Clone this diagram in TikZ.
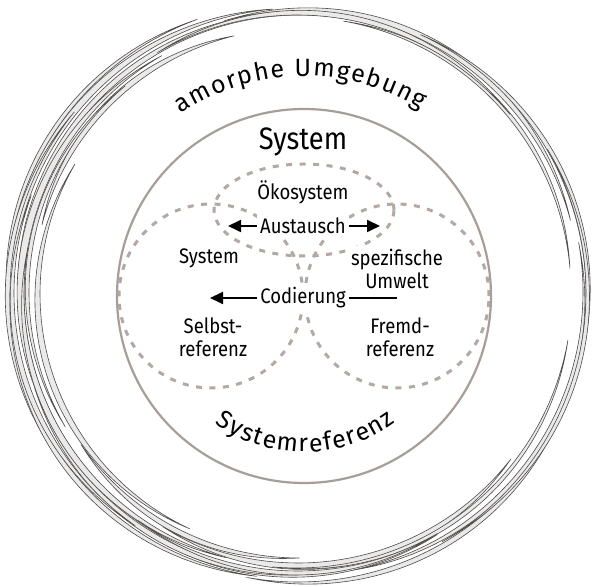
\documentclass[tikz,border=0pt]{standalone}
\usepackage{fontspec}
\setmainfont[FakeStretch=0.88]{Fira Sans}
\newfontfamily\curvefont{Fira Sans}
\usetikzlibrary{arrows.meta,decorations.text}
\definecolor{ringc}{RGB}{168,158,153}
\definecolor{dashc}{RGB}{178,169,164}
\definecolor{brushline}{RGB}{80,76,74}
\definecolor{brushfill}{RGB}{234,234,234}
\newcommand\brushstroke[6]{%
  \filldraw[brushst]
    plot[domain=#4:#5, samples=70, variable=\t]
      ({#1+(#3+#6*sin((\t-(#4))/((#5)-(#4))*180))*cos(\t)},
       {#2+(#3+#6*sin((\t-(#4))/((#5)-(#4))*180))*sin(\t)})
    -- plot[domain=#5:#4, samples=70, variable=\t]
      ({#1+#3*cos(\t)},{#2+#3*sin(\t)}) -- cycle;}
\begin{document}
\begin{tikzpicture}[x=1pt,y=1pt,
  lbl/.style={font=\fontsize{21}{23}\selectfont, align=center, inner sep=3pt, fill=white},
  head/.style={font=\fontsize{31}{31}\selectfont, inner sep=2pt},
  arr/.style={line width=1.8pt, -{Triangle[length=13pt,width=12pt]}},
  plainline/.style={line width=1.8pt},
  ring/.style={draw=ringc, line width=2.2pt},
  dashring/.style={draw=dashc, line width=3pt, dash pattern=on 6pt off 7.5pt},
  brushst/.style={fill=brushfill, draw=brushline, line width=0.6pt}]
\useasboundingbox (0,0) rectangle (594,586);
\fill[white] (0,0) rectangle (594,586);

% outer sketchy ring
\brushstroke{298}{293}{285}{95}{215}{7}
\brushstroke{300}{291}{280}{70}{200}{5}
\brushstroke{296}{295}{289}{110}{185}{4}
\brushstroke{298}{293}{265}{104}{165}{6}
\brushstroke{297}{293}{287}{141}{240}{5}
\brushstroke{299}{292}{275}{120}{230}{7}
\brushstroke{299}{292}{259}{150}{245}{6}
\brushstroke{298}{294}{269}{130}{210}{4}
\brushstroke{298}{293}{282}{15}{105}{6}
\brushstroke{300}{292}{286}{-30}{65}{5}
\brushstroke{296}{294}{275}{5}{80}{4}
\brushstroke{297}{293}{278}{40}{120}{5}
\brushstroke{298}{293}{289}{-100}{-21}{5}
\brushstroke{298}{293}{270}{-120}{-38}{7}
\brushstroke{300}{294}{283}{-80}{10}{5}
\brushstroke{298}{292}{278}{-150}{-60}{6}
\brushstroke{299}{293}{287}{-60}{30}{4}
\brushstroke{297}{293}{275}{-95}{-10}{4}
\brushstroke{298}{293}{280}{200}{280}{5}
\brushstroke{296}{293}{286}{180}{262}{5}
\brushstroke{299}{294}{266}{215}{270}{5}
\brushstroke{298}{293}{284}{160}{235}{5}
\brushstroke{297}{292}{273}{170}{255}{6}
\brushstroke{298}{293}{278}{235}{300}{4}

% system circle
\draw[ring] (304,290) circle[radius=187];

% dashed circles
\draw[dashring] (211,290) circle[radius=92];
\draw[dashring] (397,290) circle[radius=92];
\draw[dashring] (304,376) ellipse[x radius=90, y radius=46];

% curved texts
\path[decorate, decoration={text along path,
  text={|\curvefont\fontsize{25}{25}\selectfont|amorphe Umgebung}, text align={fit to path}}]
  (304,290) ++(124:220) arc[start angle=124, end angle=58, radius=220];
\path[decorate, decoration={text along path,
  text={|\curvefont\fontsize{25}{25}\selectfont|Systemreferenz}, text align={fit to path}}]
  (304,290) ++(235:156) arc[start angle=235, end angle=306, radius=156];

% labels
\node[head] (sys) at (303,444) {System};
\node[lbl] (oeko) at (303,394) {Ökosystem};
\node[lbl] (aus) at (303,360) {Austausch};
\node[lbl] (syslbl) at (209,328) {System};
\node[lbl] (umw) at (397,317) {spezifische\\Umwelt};
\node[lbl] (cod) at (303,288) {Codierung};
\node[lbl] (selbst) at (213,249) {Selbst-\\referenz};
\node[lbl] (fremd) at (400,249) {Fremd-\\referenz};

\coordinate (ausL) at (228,360);
\coordinate (ausR) at (380,360);
\coordinate (codL) at (210,288);
\coordinate (codR) at (397,288);

\draw[arr] (aus.west) -- (ausL);
\draw[arr] (aus.east) -- (ausR);
\draw[arr] (cod.west) -- (codL);
\draw[plainline] (cod.east) -- (codR);
\end{tikzpicture}
\end{document}
